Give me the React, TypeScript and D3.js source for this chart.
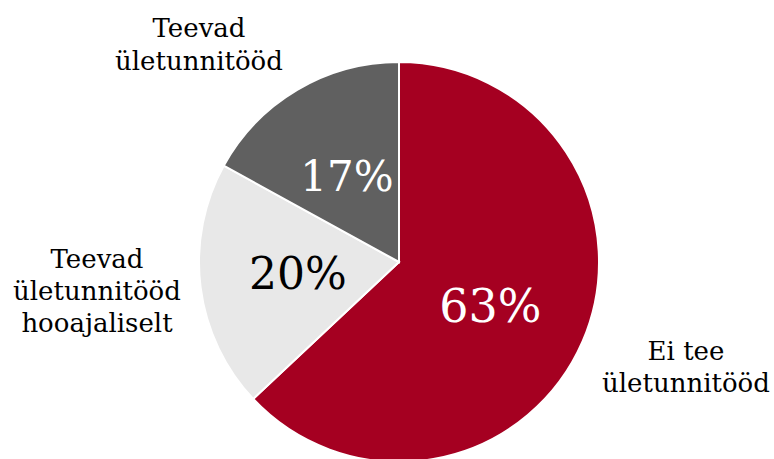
import React from "react";
import * as d3 from "d3";

const categories = ["Ei tee ületunnitööd", "Teevad ületunnitööd hooajaliselt", "Teevad ületunnitööd"];
const values = [63, 20, 17];
const pctLabels = ["63%", "20%", "17%"];
const colors = ["#A50021", "#E8E8E8", "#606060"];
const pctColors = ["#FFFFFF", "#000000", "#FFFFFF"];
const outerLabelLines = [["Ei tee", "ületunnitööd"], ["Teevad", "ületunnitööd", "hooajaliselt"], ["Teevad", "ületunnitööd"]];

const W = 774, H = 459;
const cx = 399, cy = 262, R = 200;
const FONT = "'DejaVu Serif', 'Liberation Serif', serif";

export default function App() {
  const pie = d3.pie<number>().sort(null).value((d) => d)(values);
  const arc = d3.arc<d3.PieArcDatum<number>>().innerRadius(0).outerRadius(R);
  const labelArc = d3.arc<d3.PieArcDatum<number>>().innerRadius(R * 0.58).outerRadius(R * 0.58);
  const outerPos: [number, number][] = [
    [686, 360],
    [97, 268],
    [199, 37],
  ];
  const lineGap = [32, 32, 33];
  const pctOffsets: [number, number][] = [[-15, -2], [14, -3], [7, 14]];
  const pctSizes = [46, 44, 42];
  return (
    <svg width={W} height={H} style={{ position: "absolute", left: 0, top: 0 }}>
      <rect width={W} height={H} fill="#fff" />
      <g transform={`translate(${cx},${cy})`}>
        {pie.map((p, i) => (
          <path key={i} d={arc(p) || ""} fill={colors[i]} stroke="#fff" strokeWidth={2} />
        ))}
        {pie.map((p, i) => {
          const [x, y] = labelArc.centroid(p);
          return (
            <text key={i} x={x + pctOffsets[i][0]} y={y + pctOffsets[i][1]} textAnchor="middle" dominantBaseline="central"
              fontFamily={FONT} fontSize={pctSizes[i]} fill={pctColors[i]}>
              {pctLabels[i]}
            </text>
          );
        })}
      </g>
      {outerLabelLines.map((lines, i) => (
        <text key={i} textAnchor="middle" fontFamily={FONT} fontSize={26} fill="#000">
          {lines.map((l, j) => (
            <tspan key={j} x={outerPos[i][0]} y={outerPos[i][1] + j * lineGap[i]}>{l}</tspan>
          ))}
        </text>
      ))}
    </svg>
  );
}
